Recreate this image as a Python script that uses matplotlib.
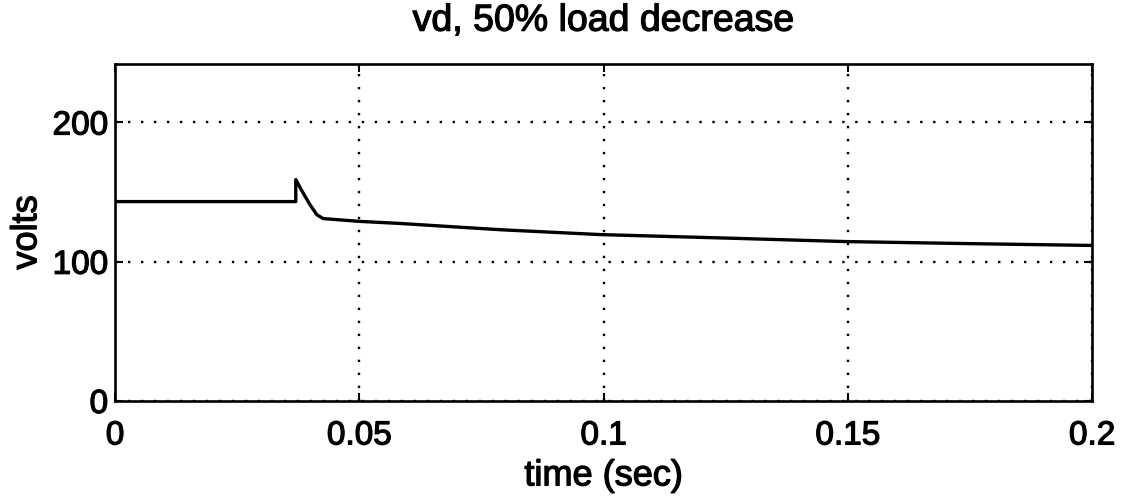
import numpy as np
import matplotlib.pyplot as plt
import matplotlib.patheffects as pe

plt.rcParams['font.family'] = ['Liberation Sans', 'DejaVu Sans']

t_sec = [0.0, 0.037, 0.0370, 0.0385, 0.0399, 0.0413, 0.0426, 0.05, 0.0583,
         0.0788, 0.0993, 0.125, 0.1494, 0.175, 0.2]
vd = [143.2, 143.2, 159.0, 149.4, 141.0, 133.8, 131.0, 129.0, 127.5,
      123.0, 119.5, 117.0, 114.5, 113.0, 111.7]

x_ticks = [0, 0.05, 0.1, 0.15, 0.2]
x_ticklabels = ['0', '0.05', '0.1', '0.15', '0.2']
y_ticks = [0, 100, 200]

# slightly heavier text stroke
heavy = [pe.withStroke(linewidth=0.9, foreground='black')]

fig = plt.figure(figsize=(11.3, 4.97), dpi=100)
ax = fig.add_axes([0.1018, 0.1932, 0.8646, 0.678])

ax.plot(t_sec, vd, color='black', linewidth=2.4)

ax.set_xlim(0, 0.2)
ax.set_ylim(0, 242)
ax.set_xticks(x_ticks)
ax.set_xticklabels(x_ticklabels)
ax.set_yticks(y_ticks)

ax.grid(True, color='black', linestyle=(0, (1, 4.5)), linewidth=1.7)
ax.tick_params(direction='in', length=6, width=1.5, labelsize=24,
               top=True, right=True)
ax.tick_params(axis='x', pad=14)
ax.tick_params(axis='y', pad=5)
for s in ax.spines.values():
    s.set_linewidth(1.9)

ax.set_title('vd, 50% load decrease', fontsize=27, pad=24)
ax.set_xlabel('time (sec)', fontsize=26, labelpad=5)
ax.set_ylabel('volts', fontsize=26, labelpad=6)

for txt in ax.get_xticklabels() + ax.get_yticklabels() + \
        [ax.title, ax.xaxis.label, ax.yaxis.label]:
    txt.set_path_effects(heavy)

fig.savefig('out.png', dpi=100)
